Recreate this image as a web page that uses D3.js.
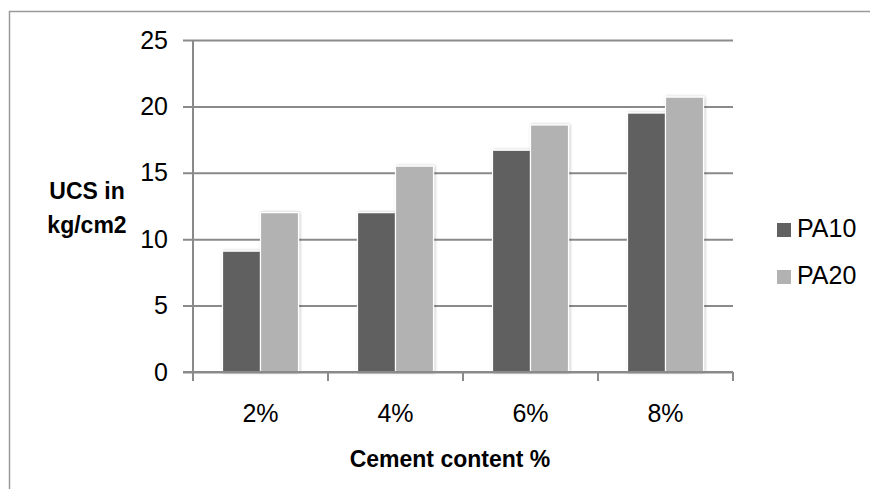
<!DOCTYPE html>
<html>
<head>
<meta charset="utf-8">
<script src="https://cdn.jsdelivr.net/npm/d3@7"></script>
<style>
  body { margin: 0; background: #fff; overflow: hidden; }
  svg { display: block; }
  text { font-family: "Liberation Sans Narrow", "Liberation Sans", Arial, sans-serif; fill: #000; }
</style>
</head>
<body>
<div id="chart"></div>
<script>
// data
const categories = ["2%", "4%", "6%", "8%"];
const seriesNames = ["PA10", "PA20"];
const pa10 = [9.1, 12.0, 16.7, 19.5];
const pa20 = [12.0, 15.5, 18.6, 20.7];
const yTicks = [0, 5, 10, 15, 20, 25];
const colors = ["#616161", "#b2b2b2"];

const W = 870, H = 489;
const margin = {top: 40, left: 193, right: 137, bottom: 117};
const width = W - margin.left - margin.right,
      height = H - margin.top - margin.bottom;

const svg = d3.select("#chart")
    .append("svg")
    .attr("width", W)
    .attr("height", H);

// soft shadow under the bars
const defs = svg.append("defs");
const f = defs.append("filter").attr("id", "shadow")
    .attr("x", "-20%").attr("y", "-5%").attr("width", "140%").attr("height", "110%");
f.append("feDropShadow").attr("dx", 1).attr("dy", 0).attr("stdDeviation", 1.5)
    .attr("flood-color", "#000").attr("flood-opacity", 0.25);

// outer frame, runs off the right and bottom edges
svg.append("rect")
    .attr("x", 9.5).attr("y", 11.5)
    .attr("width", W + 100).attr("height", H + 100)
    .attr("fill", "none")
    .attr("stroke", "#9a9a9a")
    .attr("stroke-width", 1.5);

const g = svg.append("g")
    .attr("transform", `translate(${margin.left},${margin.top})`);

const pad = 0.437;
const x0 = d3.scaleBand()
    .domain(categories)
    .range([0, width])
    .paddingInner(pad)
    .paddingOuter(pad / 2);

const x1 = d3.scaleBand()
    .domain(seriesNames)
    .range([0, x0.bandwidth()]);

const y = d3.scaleLinear()
    .domain([0, 25])
    .range([height, 0]);

// Y axis with gridlines
const yAxis = g.append("g")
    .call(d3.axisLeft(y).tickValues(yTicks).tickSizeInner(-width).tickSizeOuter(0).tickPadding(25));
yAxis.select(".domain").remove();
yAxis.selectAll(".tick line")
    .attr("x1", -10)
    .attr("stroke", "#8a8a8a")
    .attr("stroke-width", 2);
yAxis.selectAll(".tick text")
    .style("font-size", "25px");

g.append("line")
    .attr("x1", 0).attr("x2", 0)
    .attr("y1", 0).attr("y2", height)
    .attr("stroke", "#8a8a8a")
    .attr("stroke-width", 2);

// bars
const rows = categories.map((c, i) => ({cat: c, vals: [pa10[i], pa20[i]]}));
const groups = g.selectAll(".grp")
    .data(rows)
    .join("g")
    .attr("transform", d => `translate(${x0(d.cat)},0)`);

groups.selectAll("rect")
    .data(d => d.vals.map((v, j) => ({name: seriesNames[j], v: v, j: j})))
    .join("rect")
    .attr("x", d => x1(d.name))
    .attr("y", d => y(d.v))
    .attr("width", x1.bandwidth())
    .attr("height", d => height - y(d.v))
    .attr("fill", d => colors[d.j])
    .attr("stroke", "#fff")
    .attr("stroke-width", 1.2)
    .attr("filter", "url(#shadow)");

// X axis
const step = x0.step();
const xAxis = g.append("g")
    .attr("transform", `translate(0,${height})`)
    .call(d3.axisBottom(x0).tickSize(0).tickPadding(32));
xAxis.select(".domain")
    .attr("d", `M-10,0H${width}`)
    .attr("stroke", "#8a8a8a")
    .attr("stroke-width", 2);
xAxis.selectAll(".tick text").style("font-size", "25px");

const boundaries = categories.map(c => x0(c) - step * pad / 2).concat([width]);
xAxis.selectAll(".bound")
    .data(boundaries)
    .join("line")
    .attr("x1", d => d).attr("x2", d => d)
    .attr("y1", 0).attr("y2", 9)
    .attr("stroke", "#8a8a8a")
    .attr("stroke-width", 2);

// axis titles
svg.append("text")
    .attr("x", margin.left + width / 2 - 13)
    .attr("y", 467)
    .attr("text-anchor", "middle")
    .style("font-size", "23px")
    .style("font-weight", "bold")
    .text("Cement content %");

const yt = svg.append("text")
    .attr("text-anchor", "middle")
    .style("font-size", "23px")
    .style("font-weight", "bold");
yt.append("tspan").attr("x", 87).attr("y", 199).text("UCS in");
yt.append("tspan").attr("x", 87).attr("y", 233).text("kg/cm2");

// legend
const legend = svg.append("g")
    .attr("transform", "translate(777,223)");
const li = legend.selectAll("g")
    .data(seriesNames)
    .join("g")
    .attr("transform", (d, i) => `translate(0,${i * 47})`);
li.append("rect")
    .attr("width", 14).attr("height", 14)
    .attr("fill", (d, i) => colors[i]);
li.append("text")
    .attr("x", 20).attr("y", 14)
    .style("font-size", "25px")
    .text(d => d);
</script>
</body>
</html>
